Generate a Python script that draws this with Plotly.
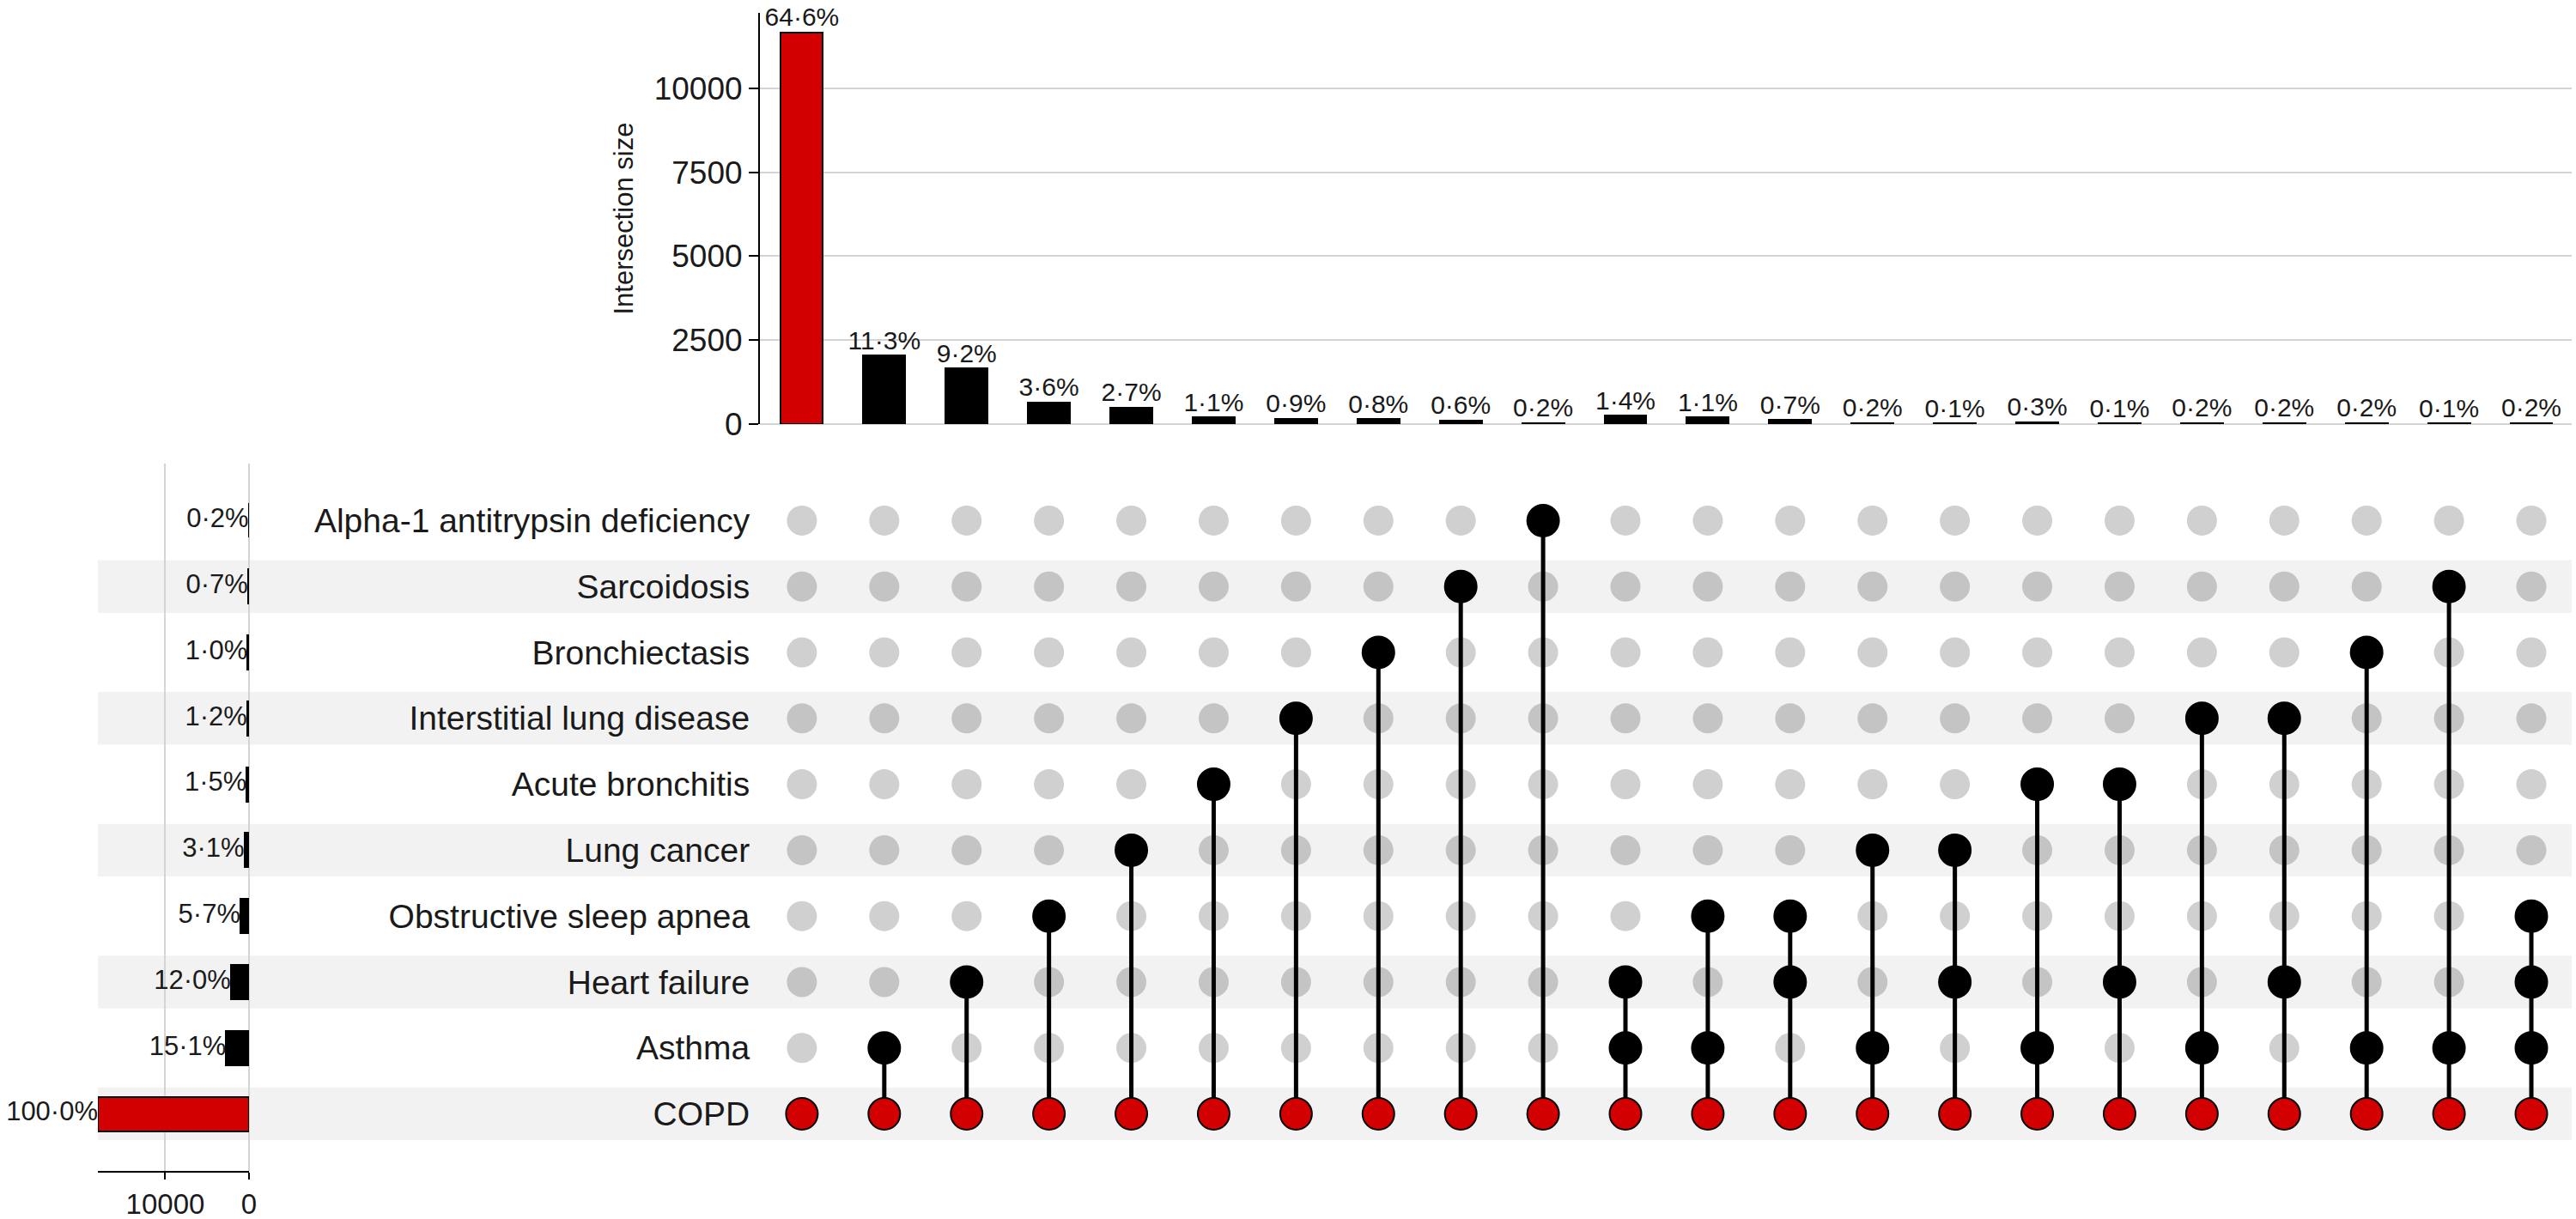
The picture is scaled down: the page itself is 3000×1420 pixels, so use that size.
import plotly.graph_objects as go

# ---------------- data ----------------
# sets, bottom row first
set_names = ["COPD", "Asthma", "Heart failure", "Obstructive sleep apnea", "Lung cancer",
             "Acute bronchitis", "Interstitial lung disease", "Bronchiectasis",
             "Sarcoidosis", "Alpha-1 antitrypsin deficiency"]
set_sizes = [18050, 2730, 2170, 1030, 560, 270, 217, 180, 126, 36]
set_labels = ["100·0%", "15·1%", "12·0%", "5·7%", "3·1%", "1·5%", "1·2%", "1·0%", "0·7%", "0·2%"]

# intersections (columns left to right): member set indices
inter_members = [
    [0], [0, 1], [0, 2], [0, 3], [0, 4], [0, 5], [0, 6], [0, 7], [0, 8], [0, 9],
    [0, 1, 2], [0, 1, 3], [0, 2, 3], [0, 1, 4], [0, 2, 4], [0, 1, 5], [0, 2, 5],
    [0, 1, 6], [0, 2, 6], [0, 1, 7], [0, 1, 8], [0, 1, 2, 3],
]
inter_sizes = [11660, 2040, 1660, 650, 487, 199, 162, 144, 108, 36,
               253, 199, 126, 36, 18, 54, 18, 36, 36, 36, 18, 36]
inter_labels = ["64·6%", "11·3%", "9·2%", "3·6%", "2·7%", "1·1%", "0·9%", "0·8%", "0·6%", "0·2%",
                "1·4%", "1·1%", "0·7%", "0·2%", "0·1%", "0·3%", "0·1%", "0·2%", "0·2%", "0·2%",
                "0·1%", "0·2%"]

top_ticks = [0, 2500, 5000, 7500, 10000]
left_ticks = [0, 10000]

# ---------------- style ----------------
W, H = 3000, 1420
RED = "#d20000"
FONT = "Liberation Sans, Arial, sans-serif"
TXT = "#1a1a1a"
GRID = "#d4d4d4"
STRIPE = "#f2f2f2"
DOT_LIGHT = "#d0d0d0"
DOT_DARK = "#c4c4c4"

def px_x(p):
    return p / W

def px_y(p):
    return 1 - p / H

n_cols = len(inter_sizes)
n_sets = len(set_names)
cols = list(range(1, n_cols + 1))
x_range = [0.49, n_cols + 0.49]

fig = go.Figure()

# ---- top: intersection size bars ----
fig.add_trace(go.Bar(
    x=cols, y=inter_sizes, width=0.51,
    marker=dict(color=[RED] + ["black"] * (n_cols - 1), line=dict(color="black", width=2)),
    xaxis="x", yaxis="y", showlegend=False, hoverinfo="skip",
))
fig.add_trace(go.Scatter(
    x=cols, y=inter_sizes, mode="text", text=inter_labels, textposition="top center",
    textfont=dict(size=30, color=TXT, family=FONT), cliponaxis=False,
    xaxis="x", yaxis="y", showlegend=False, hoverinfo="skip",
))

# ---- matrix ----
gx_l, gy_l, gx_d, gy_d = [], [], [], []
lx, ly = [], []
ax_, ay_, acol = [], [], []
for ci, members in enumerate(inter_members):
    c = ci + 1
    for s in range(n_sets):
        if s in members:
            continue
        if s % 2 == 0:
            gx_d.append(c); gy_d.append(s)
        else:
            gx_l.append(c); gy_l.append(s)
    lx += [c, c, None]
    ly += [min(members), max(members), None]
    for s in members:
        ax_.append(c); ay_.append(s)
        acol.append(RED if s == 0 else "black")

fig.add_trace(go.Scatter(x=gx_l, y=gy_l, mode="markers",
                         marker=dict(size=35, color=DOT_LIGHT, line=dict(width=0)),
                         xaxis="x2", yaxis="y2", showlegend=False, hoverinfo="skip"))
fig.add_trace(go.Scatter(x=gx_d, y=gy_d, mode="markers",
                         marker=dict(size=35, color=DOT_DARK, line=dict(width=0)),
                         xaxis="x2", yaxis="y2", showlegend=False, hoverinfo="skip"))
fig.add_trace(go.Scatter(x=lx, y=ly, mode="lines", line=dict(color="black", width=5),
                         xaxis="x2", yaxis="y2", showlegend=False, hoverinfo="skip"))
fig.add_trace(go.Scatter(x=ax_, y=ay_, mode="markers",
                         marker=dict(size=37, color=acol, line=dict(color="black", width=2)),
                         xaxis="x2", yaxis="y2", showlegend=False, hoverinfo="skip"))

# ---- left: set size bars ----
rows = list(range(n_sets))
fig.add_trace(go.Bar(
    x=set_sizes, y=rows, orientation="h", width=0.52,
    marker=dict(color=[RED] + ["black"] * (n_sets - 1), line=dict(color="black", width=2)),
    xaxis="x3", yaxis="y2", showlegend=False, hoverinfo="skip",
))
fig.add_trace(go.Scatter(
    x=set_sizes, y=rows, mode="text", text=set_labels, textposition="middle left",
    textfont=dict(size=31, color=TXT, family=FONT), cliponaxis=False,
    xaxis="x3", yaxis="y2", showlegend=False, hoverinfo="skip",
))

# stripes on alternating rows
shapes = []
for r in rows:
    if r % 2 == 0:
        shapes.append(dict(type="rect", xref="paper", yref="y2",
                           x0=px_x(114), x1=px_x(2995), y0=r - 0.4, y1=r + 0.4,
                           fillcolor=STRIPE, line=dict(width=0), layer="below"))

top_max = max(inter_sizes) * 1.05
fig.update_layout(
    width=W, height=H, autosize=False,
    margin=dict(l=0, r=0, t=0, b=0, pad=0, autoexpand=False),
    paper_bgcolor="white", plot_bgcolor="rgba(0,0,0,0)",
    font=dict(family=FONT, color=TXT),
    shapes=shapes,
    bargap=0,
    xaxis=dict(domain=[px_x(885), px_x(2995)], range=x_range, visible=False, anchor="y",
               automargin=False),
    yaxis=dict(domain=[px_y(494), px_y(15)], range=[0, top_max], anchor="x", automargin=False,
               tickvals=top_ticks, ticktext=[str(t) for t in top_ticks],
               ticks="outside", ticklen=11,
               tickwidth=2, tickcolor="black", showline=True, linecolor="black", linewidth=2,
               showgrid=True, gridcolor=GRID, gridwidth=2,
               zeroline=True, zerolinecolor=GRID, zerolinewidth=2,
               tickfont=dict(size=37, color=TXT),
               title=dict(text="Intersection size", font=dict(size=31, color=TXT), standoff=15)),
    xaxis2=dict(domain=[px_x(885), px_x(2995)], range=x_range, visible=False, anchor="y2",
                automargin=False),
    yaxis2=dict(domain=[px_y(1364), px_y(540)], range=[-0.865, n_sets - 1 + 0.865], anchor="x2",
                automargin=False,
                tickvals=rows, ticktext=set_names, ticks="outside", ticklen=3,
                tickcolor="rgba(0,0,0,0)", showgrid=False, zeroline=False, showline=False,
                tickfont=dict(size=39, color=TXT)),
    xaxis3=dict(domain=[px_x(114), px_x(290)], range=[max(set_sizes), 0], anchor="y2",
                automargin=False,
                tickvals=left_ticks, ticktext=[str(t) for t in left_ticks],
                ticks="outside", ticklen=8, tickwidth=2, tickcolor="black",
                showline=True, linecolor="black", linewidth=2,
                showgrid=True, gridcolor=GRID, gridwidth=2,
                zeroline=True, zerolinecolor=GRID, zerolinewidth=2,
                tickfont=dict(size=33, color=TXT)),
)

fig.write_html("out.html")
